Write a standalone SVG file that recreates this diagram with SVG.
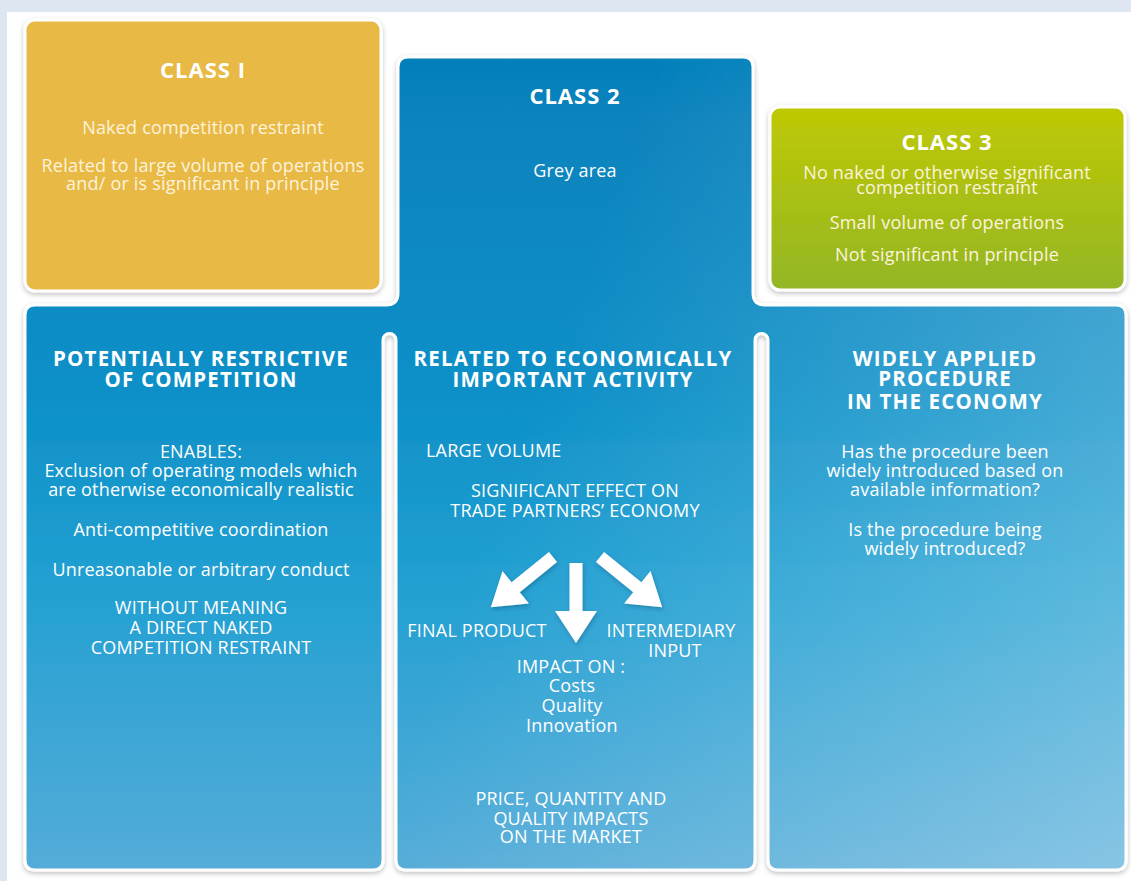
<svg xmlns="http://www.w3.org/2000/svg" width="1131" height="881" viewBox="0 0 1131 881">
<defs>
<style>
text{font-family:"Open Sans",Lato,"Liberation Sans",sans-serif;fill:#fff;text-anchor:middle}
.h{font-size:22px;font-weight:bold;letter-spacing:1px}
.hb{font-size:20.5px;font-weight:bold;letter-spacing:1.2px}
.b{font-size:18px;letter-spacing:0.2px}
.c{font-size:18px;fill:#fdf3dc;letter-spacing:0.2px}
</style>
<linearGradient id="blue" gradientUnits="userSpaceOnUse" x1="0" y1="57" x2="0" y2="872">
<stop offset="0" stop-color="#0680bb"/>
<stop offset="0.4" stop-color="#0b8fc7"/>
<stop offset="0.65" stop-color="#22a0d2"/>
<stop offset="1" stop-color="#55acd8"/>
</linearGradient>
<linearGradient id="sheen" gradientUnits="userSpaceOnUse" x1="450" y1="620" x2="1126" y2="870">
<stop offset="0" stop-color="#fff" stop-opacity="0"/>
<stop offset="1" stop-color="#fff" stop-opacity="0.3"/>
</linearGradient>
<linearGradient id="green" x1="0" y1="0" x2="0" y2="1">
<stop offset="0" stop-color="#bfc903"/>
<stop offset="1" stop-color="#93b626"/>
</linearGradient>
<filter id="sh" x="-5%" y="-5%" width="110%" height="110%">
<feDropShadow dx="0" dy="2" stdDeviation="2.5" flood-color="#000" flood-opacity="0.25"/>
</filter>
<filter id="ash" x="-30%" y="-30%" width="160%" height="160%">
<feDropShadow dx="1" dy="2" stdDeviation="2" flood-color="#003050" flood-opacity="0.3"/>
</filter>
<path id="arrow" d="M-6.5,0 L6.5,0 L6.5,48 L21,48 L0,80 L-21,48 L-6.5,48 Z"/>
<path id="bluePath" d="M408,57 H743 Q753,57 753,67 V293 Q753,305 765,305 H1116 Q1126,305 1126,315 V860 Q1126,870 1116,870 H778 Q768,870 768,860 V340 A6.5,6.5 0 0 0 755,340 V860 Q755,870 745,870 H406 Q396,870 396,860 V340 A6.5,6.5 0 0 0 383,340 V860 Q383,870 373,870 H35 Q25,870 25,860 V315 Q25,305 35,305 H386 Q398,305 398,293 V67 Q398,57 408,57 Z"/>
</defs>

<rect x="0" y="0" width="1131" height="881" fill="#dde6f1"/>
<rect x="7" y="12" width="1124" height="869" fill="#ffffff"/>

<g id="blue-panels">
<use href="#bluePath" fill="url(#blue)" stroke="#ffffff" stroke-width="3" filter="url(#sh)"/>
<use href="#bluePath" fill="url(#sheen)"/>
</g>

<g id="class1">
<rect x="25" y="20" width="356" height="271" rx="10" fill="#e8b945" stroke="#ffffff" stroke-width="3" filter="url(#sh)"/>
<text class="h" x="203" y="78">CLASS I</text>
<text class="c" x="203" y="134">Naked competition restraint</text>
<text class="c" x="203" y="172">Related to large volume of operations</text>
<text class="c" x="203" y="190">and/ or is significant in principle</text>
</g>

<g id="class2">
<text class="h" x="575" y="104">CLASS 2</text>
<text class="b" x="575" y="177">Grey area</text>
</g>

<g id="class3">
<rect x="770" y="107" width="355" height="183" rx="10" fill="url(#green)" stroke="#ffffff" stroke-width="3" filter="url(#sh)"/>
<text class="h" x="947" y="150">CLASS 3</text>
<text class="c" x="947" y="179">No naked or otherwise significant</text>
<text class="c" x="947" y="194">competition restraint</text>
<text class="c" x="947" y="229">Small volume of operations</text>
<text class="c" x="947" y="261">Not significant in principle</text>
</g>

<g id="restrictive">
<text class="hb" x="201" y="366">POTENTIALLY RESTRICTIVE</text>
<text class="hb" x="201" y="387">OF COMPETITION</text>
<text class="b" x="201" y="458">ENABLES:</text>
<text class="b" x="201" y="477">Exclusion of operating models which</text>
<text class="b" x="201" y="496">are otherwise economically realistic</text>
<text class="b" x="201" y="536">Anti-competitive coordination</text>
<text class="b" x="201" y="576">Unreasonable or arbitrary conduct</text>
<text class="b" x="201" y="614">WITHOUT MEANING</text>
<text class="b" x="201" y="634">A DIRECT NAKED</text>
<text class="b" x="201" y="654">COMPETITION RESTRAINT</text>
</g>

<g id="economic">
<text class="hb" x="573" y="366">RELATED TO ECONOMICALLY</text>
<text class="hb" x="573" y="387">IMPORTANT ACTIVITY</text>
<text class="b" x="426" y="457" style="text-anchor:start">LARGE VOLUME</text>
<text class="b" x="575" y="497">SIGNIFICANT EFFECT ON</text>
<text class="b" x="575" y="517">TRADE PARTNERS’ ECONOMY</text>
<text class="b" x="477" y="637">FINAL PRODUCT</text>
<text class="b" x="671" y="637">INTERMEDIARY</text>
<text class="b" x="675" y="657">INPUT</text>
<text class="b" x="571" y="673">IMPACT ON :</text>
<text class="b" x="572" y="692">Costs</text>
<text class="b" x="572" y="712">Quality</text>
<text class="b" x="572" y="732">Innovation</text>
<text class="b" x="571" y="805">PRICE, QUANTITY AND</text>
<text class="b" x="571" y="825">QUALITY IMPACTS</text>
<text class="b" x="571" y="843">ON THE MARKET</text>
</g>

<g id="widely">
<text class="hb" x="945" y="366">WIDELY APPLIED</text>
<text class="hb" x="945" y="386">PROCEDURE</text>
<text class="hb" x="945" y="409">IN THE ECONOMY</text>
<text class="b" x="945" y="458">Has the procedure been</text>
<text class="b" x="945" y="477">widely introduced based on</text>
<text class="b" x="945" y="496">available information?</text>
<text class="b" x="945" y="536">Is the procedure being</text>
<text class="b" x="945" y="555">widely introduced?</text>
</g>

<g id="connectors" fill="#ffffff" filter="url(#ash)">
<use href="#arrow" transform="translate(553,557) rotate(51)"/>
<use href="#arrow" transform="translate(576,563)"/>
<use href="#arrow" transform="translate(600,557) rotate(-51)"/>
</g>
</svg>
